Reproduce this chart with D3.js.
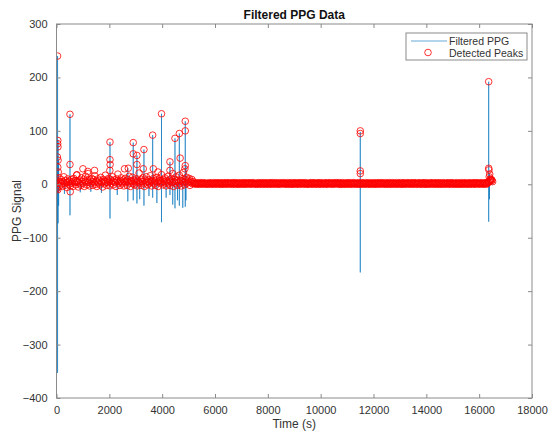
<!DOCTYPE html>
<html>
<head>
<meta charset="utf-8">
<script src="https://d3js.org/d3.v7.min.js"></script>
<style>
  body { margin: 0; background: #fff; }
  text { font-family: "Liberation Sans", Arial, Helvetica, sans-serif; }
</style>
</head>
<body>
<div id="chart"></div>
<script>
// Large excursions of the filtered PPG trace: time (s), max and min of each spike
const spikeTime = [40, 60, 80, 300, 510, 900, 1300, 1700, 2025, 2300, 2700, 2905, 3045, 3150, 3310, 3500, 3640, 3800, 3975, 4150, 4295, 4400, 4485, 4580, 4650, 4780, 4875, 4900, 11500, 16360, 16390];
const spikeHigh = [240, 82, 45, 10, 131, 8, 10, 9, 79, 10, 30, 78, 54, 10, 65, 12, 92, 10, 132, 9, 42, 12, 86, 10, 95, 14, 118, 35, 98, 192, 20];
const spikeLow = [-353, -73, -40, -18, -58, -15, -14, -16, -64, -20, -32, -30, -36, -28, -40, -22, -25, -35, -71, -25, -20, -38, -45, -30, -40, -44, -42, -30, -165, -70, -28];
const signalEnd = 16520;

// Detected peaks that stand out from the band
const peakTime = [40, 50, 45, 55, 35, 60, 50, 65, 10, 50, 510, 510, 520, 760, 1000, 1185, 1440, 2025, 2025, 2030, 2020, 2575, 2718, 2905, 2905, 3045, 3045, 3285, 3310, 3640, 3665, 3840, 3975, 4295, 4295, 4485, 4650, 4680, 4875, 4875, 4875, 4860, 11500, 11500, 11500, 11500, 16360, 16360, 16370, 16400, 16380, 16420, 16480, 16510];
const peakValue = [240, 82, 76, 70, 51, 45, 32, 23, -8, -10, 131, 37, -14, 17, 29, 24, 26, 79, 46, 37, 26, 29, 30, 78, 57, 54, 37, 29, 65, 92, 29, 23, 132, 42, 26, 86, 95, 49, 118, 100, 35, 29, 100, 95, 25, 20, 192, 30, 27, 19, 14, 10, 8, 5];

// Dense run of small detected peaks, 0 to 5200 s every 25 s
const bandEarlyStep = 25;
const bandEarly = [
  8, 3, -5, 6, 12, -3, 4, 9, 1, -4, 5, 14, 2, -2, 7, 3, -6, 10, 4, 0,
  6, -3, 9, 2, 5, -4, 11, 3, 7, -1, 4, 18, 6, -5, 3, 8, 1, -2, 12, 5,
  2, 9, -4, 6, 15, 3, -1, 7, 20, 4, -3, 8, 2, 11, 5, -2, 9, 3, 16, 0,
  6, -4, 4, 10, 2, 7, -1, 13, 5, 3, -5, 9, 6, 1, 17, 4, -2, 8, 3, 11,
  5, -3, 9, 2, 6, 14, -1, 4, 8, 3, -4, 10, 6, 19, 2, 5, -2, 7, 12, 4,
  1, 8, -3, 5, 11, 3, 6, -2, 9, 4, 15, 2, -4, 7, 5, 13, 1, 8, -1, 6,
  10, 3, -3, 7, 4, 21, 2, 6, -2, 9, 5, 12, 1, -4, 8, 3, 14, 6, -1, 4,
  9, 2, 16, 5, -3, 7, 3, 11, 1, 6, -2, 8, 13, 4, -4, 6, 10, 2, 7, 18,
  3, -1, 9, 5, 12, 2, -3, 7, 4, 15, 1, 8, -2, 6, 11, 3, 20, -4, 5, 9,
  2, 14, 6, -2, 8, 4, 17, 1, 7, -3, 10, 5, 22, 3, -1, 9, 6, 13, 2, 8,
  4, 11, -2, 6, 3, 9, 1, 5, 2
];

// Dense run of small detected peaks, 5225 s onwards every 25 s
const bandLateStart = 5225;
const bandLateStep = 25;
const bandLate = [
  1, 2, 0, 3, 1, 2, 1, 0, 2, 3, 1, 2, 0, 1, 3, 2, 1, 0, 2, 1, 2, 0, 1, 3, 2,
  1, 0, 2, 1, 3, 0, 2, 1, 1, 3, 0, 2, 2, 1, 0, 3, 1, 2, 0, 1, 2, 3, 1, 0, 2,
  1, 3, 2, 0, 1, 2, 1, 3, 0, 2, 1, 3, 0, 2, 2, 1, 0, 3, 1, 2, 0, 1, 2, 3, 1,
  0, 2, 1, 3, 1, 0, 2, 2, 1, 3, 0, 1, 2, 1, 3, 2, 0, 1, 2, 0, 2, 1, 3, 0, 2,
  1, 1, 3, 0, 2, 1, 2, 0, 3, 1, 2, 1, 0, 2, 3, 1, 0, 2, 3, 1, 2, 0, 1, 3, 2,
  1, 0, 2, 1, 3, 0, 2, 1, 2, 1, 3, 2, 0, 1, 2, 1, 3, 0, 1, 2, 2, 0, 3, 1, 0,
  2, 1, 3, 1, 2, 0, 1, 2, 3, 0, 2, 1, 1, 3, 2, 0, 1, 2, 3, 1, 0, 2, 1, 0, 2,
  2, 3, 1, 0, 2, 1, 3, 2, 0, 1, 1, 2, 3, 0, 2, 1, 0, 3, 2, 1, 1, 2, 0, 2, 3,
  1, 0, 1, 2, 3, 2, 0, 1, 2, 1, 3, 0, 2, 1, 2, 3, 1, 2, 0, 3, 1, 0, 2, 1, 3,
  0, 2, 1, 2, 0, 1, 3, 2, 1, 0, 2, 3, 1, 1, 0, 2, 3, 1, 2, 0, 1, 2, 1, 3, 0,
  2, 1, 0, 3, 2, 1, 2, 0, 1, 3, 1, 2, 0, 2, 1, 3, 0, 1, 2, 2, 1, 0, 3, 1, 2,
  0, 1, 2, 3, 1, 0, 2, 1, 3, 2, 0, 2, 1, 1, 3, 0, 2, 1, 2, 0, 3, 1, 2, 0, 1,
  3, 2, 1, 0, 2, 1, 3, 1, 0, 2, 2, 1, 3, 0, 1, 2, 0, 3, 1, 2, 1, 0, 2, 3, 1,
  2, 0, 1, 2, 3, 1, 0, 2, 1, 3, 2, 0, 1, 1, 2, 3, 0, 2, 1, 0, 2, 3, 1, 2, 0,
  1, 3, 0, 2, 1, 2, 1, 0, 3, 2, 1, 2, 0, 1, 3, 1, 2, 0, 2, 1, 3, 0, 1, 2, 2,
  0, 1, 3, 2, 1, 0, 2, 1, 2, 3, 0, 1, 2, 2, 0, 3, 1, 2, 1, 0, 2, 1, 3, 0, 1,
  2, 2, 0, 1, 3, 1, 2, 0, 1, 2, 3, 1, 0, 2, 1, 2, 0, 3, 1, 1, 2, 0, 2, 3, 1,
  0, 2, 1, 3, 2, 1, 0, 2, 1, 3, 1, 2, 0, 1, 2, 3, 1, 0, 2, 4, 3, 5, 6, 8, 9,
  7
];

const xTicks = [0, 2000, 4000, 6000, 8000, 10000, 12000, 14000, 16000, 18000];
const yTicks = [-400, -300, -200, -100, 0, 100, 200, 300];

const width = 553;
const height = 433;
const margin = { top: 24, right: 21, bottom: 35, left: 56.5 };
const innerW = width - margin.left - margin.right;
const innerH = height - margin.top - margin.bottom;

const svg = d3.select("#chart")
    .append("svg")
    .attr("width", width)
    .attr("height", height);

const x = d3.scaleLinear().domain([0, 18000]).range([margin.left, margin.left + innerW]);
const y = d3.scaleLinear().domain([-400, 300]).range([margin.top + innerH, margin.top]);

svg.append("clipPath").attr("id", "plotClip")
    .append("rect")
    .attr("x", margin.left).attr("y", margin.top)
    .attr("width", innerW).attr("height", innerH);

// build the trace: baseline, then straight up and down at each spike
const trace = [[0, 0]];
spikeTime.forEach((t, i) => {
    trace.push([t, 0], [t, spikeHigh[i]], [t, spikeLow[i]], [t, 0]);
});
trace.push([signalEnd, 0]);

const line = d3.line().x(d => x(d[0])).y(d => y(d[1]));

const plot = svg.append("g").attr("clip-path", "url(#plotClip)");

plot.append("path")
    .datum(trace)
    .attr("d", line)
    .attr("fill", "none")
    .attr("stroke", "#0072BD")
    .attr("stroke-width", 0.6);

// all detected peaks
const peaks = [];
bandEarly.forEach((v, i) => peaks.push([i * bandEarlyStep, v]));
bandLate.forEach((v, i) => peaks.push([bandLateStart + i * bandLateStep, v]));
peakTime.forEach((t, i) => peaks.push([t, peakValue[i]]));

plot.selectAll("circle.peak")
    .data(peaks)
    .enter()
    .append("circle")
    .attr("class", "peak")
    .attr("cx", d => x(d[0]))
    .attr("cy", d => y(d[1]))
    .attr("r", 3.3)
    .attr("fill", "none")
    .attr("stroke", "#f00")
    .attr("stroke-width", 0.8);

// axes with inward ticks on all four sides
const axisColor = "#8a8a8a";
const labelColor = "#333";

const xAxis = svg.append("g")
    .attr("transform", `translate(0,${margin.top + innerH})`)
    .call(d3.axisBottom(x).tickValues(xTicks).tickSizeInner(-4).tickSizeOuter(0).tickPadding(8).tickFormat(d3.format("d")));
const yAxis = svg.append("g")
    .attr("transform", `translate(${margin.left},0)`)
    .call(d3.axisLeft(y).tickValues(yTicks).tickSizeInner(-4).tickSizeOuter(0).tickPadding(9).tickFormat(d3.format("d")));
const xTop = svg.append("g")
    .attr("transform", `translate(0,${margin.top})`)
    .call(d3.axisTop(x).tickValues(xTicks).tickSizeInner(-4).tickSizeOuter(0).tickFormat(""));
const yRight = svg.append("g")
    .attr("transform", `translate(${margin.left + innerW},0)`)
    .call(d3.axisRight(y).tickValues(yTicks).tickSizeInner(-4).tickSizeOuter(0).tickFormat(""));

[xAxis, yAxis, xTop, yRight].forEach(g => {
    g.select(".domain").remove();
    g.selectAll(".tick line").attr("stroke", axisColor);
    g.selectAll(".tick text").attr("fill", labelColor).style("font-size", "11px");
});

svg.append("rect")
    .attr("x", margin.left).attr("y", margin.top)
    .attr("width", innerW).attr("height", innerH)
    .attr("fill", "none")
    .attr("stroke", axisColor)
    .attr("stroke-width", 1);

// title and labels
svg.append("text")
    .attr("x", margin.left + innerW / 2)
    .attr("y", 19)
    .attr("text-anchor", "middle")
    .style("font-size", "12px")
    .style("font-weight", "bold")
    .attr("fill", "#111")
    .text("Filtered PPG Data");

svg.append("text")
    .attr("x", margin.left + innerW / 2)
    .attr("y", 428)
    .attr("text-anchor", "middle")
    .style("font-size", "12px")
    .attr("fill", labelColor)
    .text("Time (s)");

svg.append("text")
    .attr("transform", `translate(21,${margin.top + innerH / 2}) rotate(-90)`)
    .attr("text-anchor", "middle")
    .style("font-size", "12px")
    .attr("fill", labelColor)
    .text("PPG Signal");

// legend
const legend = svg.append("g").attr("transform", "translate(406,33)");
legend.append("rect")
    .attr("width", 121).attr("height", 27)
    .attr("fill", "#fff")
    .attr("stroke", axisColor)
    .attr("stroke-width", 1);
legend.append("line")
    .attr("x1", 5).attr("x2", 41).attr("y1", 8).attr("y2", 8)
    .attr("stroke", "#0072BD").attr("stroke-width", 0.6);
legend.append("circle")
    .attr("cx", 22).attr("cy", 19.5).attr("r", 3.3)
    .attr("fill", "none").attr("stroke", "#f00").attr("stroke-width", 0.8);
legend.append("text")
    .attr("x", 43).attr("y", 12)
    .style("font-size", "10.5px").attr("fill", labelColor)
    .text("Filtered PPG");
legend.append("text")
    .attr("x", 43).attr("y", 23.5)
    .style("font-size", "10.5px").attr("fill", labelColor)
    .text("Detected Peaks");
</script>
</body>
</html>
